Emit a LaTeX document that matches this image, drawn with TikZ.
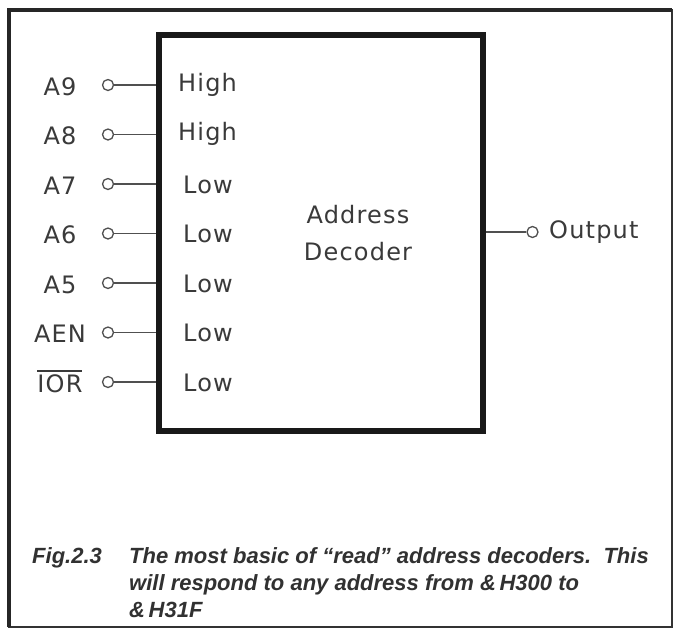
\documentclass[tikz,border=0pt]{standalone}
\usepackage{fontspec}
\newfontfamily\lblfont{DejaVu Sans}[LetterSpace=5]
\newfontfamily\capfont{Liberation Sans}
\definecolor{ink}{HTML}{3A3A3A}
\definecolor{wire}{HTML}{505050}
\tikzset{
  lbl/.style={inner sep=0pt, text=ink, font=\lblfont\fontsize{24}{28}\selectfont},
  alabel/.style={lbl, anchor=base},
  inlabel/.style={lbl, anchor=base west},
  capt/.style={inner sep=0pt, anchor=base west, text=ink!85!black, font=\capfont\bfseries\itshape\fontsize{22}{27}\selectfont},
  pinc/.style={circle, draw=wire, line width=1.3pt, minimum size=11pt, inner sep=0pt, fill=white},
  wireline/.style={draw=wire, line width=1.4pt},
  decbox/.style={draw=black!90, line width=6pt, minimum width=324pt, minimum height=396pt, inner sep=0pt}
}
\begin{document}
\begin{tikzpicture}[x=1pt, y=-1pt]
\useasboundingbox (0,0) rectangle (675,630);
\fill[white] (0,0) rectangle (675,630);
% outer frame
\draw[black!80, line width=2pt] (9,10) -- (672,10) -- (672,627) -- (9,627) -- cycle;
\draw[black!85, line width=3.8pt] (9,627) -- (9,10) -- (672,10);
% decoder box
\node[decbox] (box) at (321,233) {};
\node[lbl, anchor=base] (addr) at (358,223) {Address};
\node[lbl, anchor=base] (dec) at (358,260) {Decoder};
% pins
\node[pinc] (c9) at (108,85) {};
\node[pinc] (c8) at (108,134.5) {};
\node[pinc] (c7) at (108,184) {};
\node[pinc] (c6) at (108,233.5) {};
\node[pinc] (c5) at (108,283) {};
\node[pinc] (cen) at (108,332.5) {};
\node[pinc] (cior) at (108,382) {};
\foreach \c in {c9,c8,c7,c6,c5,cen,cior}{
  \draw[wireline] (\c.east) -- (\c.east -| box.west);
}
\node[alabel] (l9) at (60,95) {A9};
\node[alabel] (l8) at (60,144.5) {A8};
\node[alabel] (l7) at (60,194) {A7};
\node[alabel] (l6) at (60,243.5) {A6};
\node[alabel] (l5) at (60,293) {A5};
\node[alabel] (len) at (60,342.5) {AEN};
\node[alabel] (lior) at (60,392) {IOR};
\draw[ink, line width=1.3pt] ([yshift=21pt]lior.base west) -- ([yshift=21pt, xshift=-1pt]lior.base east);
\node[inlabel] (h9) at (178,91) {High};
\node[inlabel] (h8) at (178,140.5) {High};
\node[inlabel] (h7) at (183,193) {Low};
\node[inlabel] (h6) at (183,242.5) {Low};
\node[inlabel] (h5) at (183,292) {Low};
\node[inlabel] (hen) at (183,341.5) {Low};
\node[inlabel] (hior) at (183,391) {Low};
% output
\node[pinc] (co) at (532.5,232) {};
\draw[wireline] (box.east |- co) -- (co.west);
\node[inlabel] (out) at (549,238.5) {Output};
% caption
\node[capt] (fig) at (32,563) {Fig.2.3};
\node[capt] (cap1) at (129,563) {The most basic of “read” address decoders.\ \ This};
\node[capt] (cap2) at (129,590) {will respond to any address from \&\,H300 to};
\node[capt] (cap3) at (129,617) {\&\,H31F};
\end{tikzpicture}
\end{document}
